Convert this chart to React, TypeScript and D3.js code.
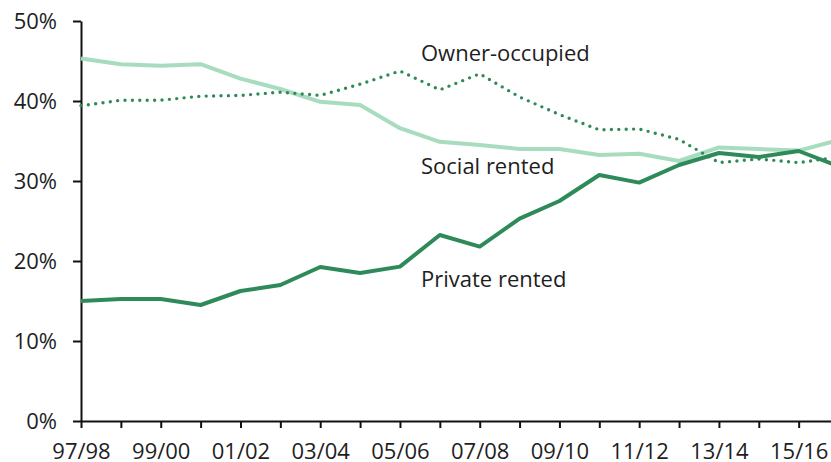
import React, { useEffect, useRef } from 'react'
import { select, scalePoint, scaleLinear, axisBottom, axisLeft, line } from 'd3'

const years = [
  '97/98', '98/99', '99/00', '00/01', '01/02', '02/03', '03/04', '04/05', '05/06', '06/07',
  '07/08', '08/09', '09/10', '10/11', '11/12', '12/13', '13/14', '14/15', '15/16', '16/17'
]
const socialRented = [45.3, 44.6, 44.4, 44.6, 42.8, 41.5, 39.9, 39.5, 36.6, 34.9, 34.5, 34.0, 34.0, 33.25, 33.4, 32.5, 34.2, 34.0, 33.8, 35.1]
const privateRented = [15.0, 15.25, 15.25, 14.5, 16.25, 17.0, 19.25, 18.5, 19.3, 23.25, 21.8, 25.3, 27.5, 30.75, 29.8, 32.0, 33.5, 33.0, 33.75, 31.85]
const ownerOccupied = [39.4, 40.1, 40.1, 40.6, 40.7, 41.1, 40.7, 42.1, 43.75, 41.4, 43.4, 40.5, 38.3, 36.4, 36.5, 35.2, 32.3, 32.75, 32.3, 33.0]
const yTicks = [0, 10, 20, 30, 40, 50]

const width = 831
const height = 462
const font = '"Open Sans", "Noto Sans", sans-serif'

const series = [
  { label: 'Social rented', values: socialRented, color: '#a7dcbf', dash: null, labelY: 174 },
  { label: 'Private rented', values: privateRented, color: '#2f8a5a', dash: null, labelY: 287 },
  { label: 'Owner-occupied', values: ownerOccupied, color: '#2f8a5a', dash: '0 7.4', labelY: 61 }
]

export default function App() {
  const svgRef = useRef<SVGSVGElement | null>(null)

  useEffect(() => {
    if (!svgRef.current) return
    const svg = select(svgRef.current)

    const xScale = scalePoint<string>()
      .domain(years)
      .range([81, 81 + 19 * 39.87])

    const yScale = scaleLinear()
      .domain([0, 50])
      .range([421, 21])

    const yAxis = axisLeft(yScale)
      .tickValues(yTicks)
      .tickFormat(d => `${d}%`)
      .tickSize(8)
      .tickSizeOuter(0)
      .tickPadding(16)
    svg.select<SVGGElement>('#y-axis')
      .attr('transform', `translate(${xScale(years[0])}, 0)`)
      .call(yAxis)

    // only every other year gets a label
    const xAxis = axisBottom(xScale)
      .tickFormat((d, i) => (i % 2 === 0 ? d : ''))
      .tickSize(7)
      .tickSizeOuter(0)
      .tickPadding(15)
    svg.select<SVGGElement>('#x-axis')
      .attr('transform', `translate(0, ${yScale(0)})`)
      .call(xAxis)

    svg.selectAll('.axis path, .axis line')
      .attr('stroke', '#111')
      .attr('stroke-width', 2)
    svg.selectAll('.axis text')
      .attr('font-family', font)
      .attr('font-size', 22)
      .attr('fill', '#1e1e1e')

    const lineGen = line<number>()
      .x((_, i) => xScale(years[i]) ?? 0)
      .y(v => yScale(v))

    svg.select('#lines')
      .selectAll('path')
      .data(series)
      .join('path')
      .attr('d', s => lineGen(s.values))
      .attr('fill', 'none')
      .attr('stroke', s => s.color)
      .attr('stroke-width', s => (s.dash ? 3.4 : 4))
      .attr('stroke-linecap', s => (s.dash ? 'round' : 'butt'))
      .attr('stroke-linejoin', 'round')
      .attr('stroke-dasharray', s => s.dash)

    svg.select('#labels')
      .selectAll('text')
      .data(series)
      .join('text')
      .attr('x', 421)
      .attr('y', s => s.labelY)
      .attr('font-family', font)
      .attr('font-size', 22)
      .attr('fill', '#1e1e1e')
      .text(s => s.label)
  }, [])

  return (
    <svg
      ref={svgRef}
      width={width}
      height={height}
      style={{ position: 'fixed', left: 0, top: 0, background: '#fff' }}
    >
      <g id='x-axis' className='axis' />
      <g id='y-axis' className='axis' />
      <g id='lines' />
      <g id='labels' />
    </svg>
  )
}
